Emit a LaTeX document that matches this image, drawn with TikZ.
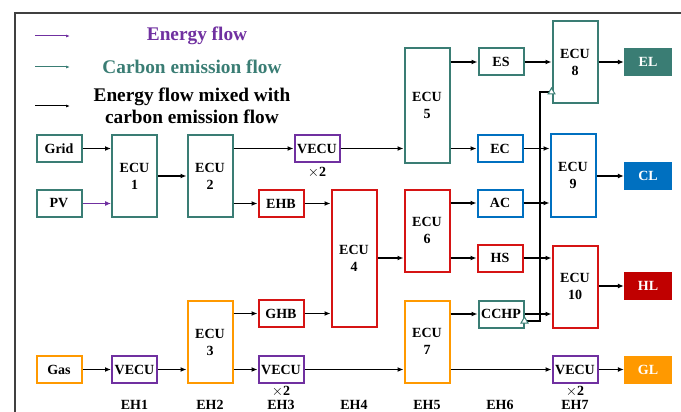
\documentclass[tikz,border=0pt]{standalone}
\usepackage{fontspec}
\setmainfont{Liberation Serif}
\usepackage{tikz}
\usetikzlibrary{arrows.meta, positioning, shapes.geometric}
\definecolor{ecteal}{RGB}{58, 125, 116}
\definecolor{ecpurple}{RGB}{112, 48, 160}
\definecolor{ecblue}{RGB}{0, 112, 192}
\definecolor{ecred}{RGB}{214, 20, 20}
\definecolor{ecdark}{RGB}{192, 0, 0}
\definecolor{ecorange}{RGB}{255, 153, 0}
\definecolor{framegray}{RGB}{64, 64, 64}

\begin{document}
\begin{tikzpicture}[
    x=1pt, y=-1pt,
    unit/.style={rectangle, draw=#1, fill=white, line width=2pt, inner sep=0pt, align=center, font=\fontsize{14}{17}\selectfont\bfseries},
    small/.style={minimum width=45pt, minimum height=27pt},
    ecu/.style={minimum width=45pt, minimum height=82pt},
    load/.style={rectangle, fill=#1, minimum width=48pt, minimum height=28pt, inner sep=0pt, text=white, font=\fontsize{14}{17}\selectfont\bfseries},
    flow/.style={-{Latex[length=6pt,width=5pt]}, line width=1.6pt},
    legflow/.style={-{Latex[length=4pt,width=3pt]}, line width=1pt},
    legtext/.style={font=\fontsize{19.3}{22}\selectfont\bfseries, align=center},
    times/.style={font=\fontsize{14}{17}\selectfont\bfseries, inner sep=0pt},
    ehlbl/.style={font=\fontsize{14}{17}\selectfont\bfseries, inner sep=0pt},
    ctri/.style={regular polygon, regular polygon sides=3, draw=ecteal, fill=white, line width=1pt, minimum size=8pt, inner sep=0pt}
  ]
  \useasboundingbox (0,0) rectangle (681,412);

  % Frame
  \draw[framegray, line width=2pt] (15,412) -- (15,13) -- (681,13);

  % Legend
  \coordinate (lgE0) at (35,36);  \coordinate (lgE1) at (70,36);
  \coordinate (lgC0) at (35,67);  \coordinate (lgC1) at (70,67);
  \coordinate (lgM0) at (35,106); \coordinate (lgM1) at (70,106);
  \draw[legflow, ecpurple] (lgE0) -- (lgE1);
  \draw[legflow, ecteal] (lgC0) -- (lgC1);
  \draw[legflow, black] (lgM0) -- (lgM1);
  \node[legtext, text=ecpurple] (legE) at (197,36) {Energy flow};
  \node[legtext, text=ecteal] (legC) at (192,67) {Carbon emission flow};
  \node[legtext] (legM) at (192,106) {Energy flow mixed with\\carbon emission flow};

  % Sources
  \node[unit=ecteal, small] (grid) at (59,148.5) {Grid};
  \node[unit=ecteal, small] (pv) at (59,203.5) {PV};
  \node[unit=ecorange, small] (gas) at (59,369.5) {Gas};

  % EH1 - EH3
  \node[unit=ecteal, ecu] (ecu1) at (134.5,176) {ECU\\1};
  \node[unit=ecpurple, small] (vecu1) at (134.5,369.5) {VECU};
  \node[unit=ecteal, ecu] (ecu2) at (210,176) {ECU\\2};
  \node[unit=ecorange, ecu] (ecu3) at (210,342) {ECU\\3};
  \node[unit=ecpurple, small] (vecu2) at (317,148.5) {VECU};
  \node[unit=ecred, small] (ehb) at (281,203.5) {EHB};
  \node[unit=ecred, small] (ghb) at (281,313.5) {GHB};
  \node[unit=ecpurple, small] (vecu3) at (281,369.5) {VECU};
  \node[times, below=4pt of vecu2] (x2a) {$\times$2};
  \node[times, below=2pt of vecu3] (x2b) {$\times$2};

  % EH4 - EH5
  \node[unit=ecred, ecu, minimum height=137pt] (ecu4) at (354,258) {ECU\\4};
  \node[unit=ecteal, ecu, minimum height=114pt] (ecu5) at (427,105.5) {ECU\\5};
  \node[unit=ecred, ecu] (ecu6) at (427,230.5) {ECU\\6};
  \node[unit=ecorange, ecu] (ecu7) at (427,341.5) {ECU\\7};

  % EH6
  \node[unit=ecteal, small] (es) at (501,62) {ES};
  \node[unit=ecblue, small] (ec) at (500,148.5) {EC};
  \node[unit=ecblue, small] (ac) at (500,203) {AC};
  \node[unit=ecred, small] (hs) at (500,258) {HS};
  \node[unit=ecteal, small] (cchp) at (501,314) {CCHP};

  % EH7
  \node[unit=ecteal, ecu] (ecu8) at (575,62) {ECU\\8};
  \node[unit=ecblue, ecu] (ecu9) at (573,175.5) {ECU\\9};
  \node[unit=ecred, ecu] (ecu10) at (575,286.5) {ECU\\10};
  \node[unit=ecpurple, small] (vecu4) at (575,369.5) {VECU};
  \node[times, below=2pt of vecu4] (x2c) {$\times$2};

  % Loads
  \node[load=ecteal] (el) at (648,62) {EL};
  \node[load=ecblue] (cl) at (648,176) {CL};
  \node[load=ecdark] (hl) at (648,286) {HL};
  \node[load=ecorange] (gl) at (648,369.5) {GL};

  % Hub labels
  \foreach \n/\x in {1/134.5, 2/210, 3/281, 4/354, 5/427, 6/500, 7/575} {
    \node[ehlbl] (eh\n) at (\x,405) {EH\n};
  }

  % Flows
  \draw[flow] (grid.east) -- (grid.east -| ecu1.west);
  \draw[flow, ecpurple, line width=1.1pt] (pv.east) -- (pv.east -| ecu1.west);
  \draw[flow] (gas.east) -- (vecu1.west);
  \draw[flow] (ecu1.east) -- (ecu2.west);
  \draw[flow] (vecu1.east) -- (vecu1.east -| ecu3.west);
  \draw[flow] (ecu2.east |- vecu2.west) -- (vecu2.west);
  \draw[flow] (ecu2.east |- ehb.west) -- (ehb.west);
  \draw[flow] (ecu3.east |- ghb.west) -- (ghb.west);
  \draw[flow] (ecu3.east |- vecu3.west) -- (vecu3.west);
  \draw[flow] (vecu2.east) -- (vecu2.east -| ecu5.west);
  \draw[flow] (ehb.east) -- (ehb.east -| ecu4.west);
  \draw[flow] (ghb.east) -- (ghb.east -| ecu4.west);
  \draw[flow] (vecu3.east) -- (vecu3.east -| ecu7.west);
  \draw[flow] (ecu4.east) -- (ecu4.east -| ecu6.west);
  \draw[flow] (ecu5.east |- es.west) -- (es.west);
  \draw[flow] (ecu5.east |- ec.west) -- (ec.west);
  \draw[flow] (ecu6.east |- ac.west) -- (ac.west);
  \draw[flow] (ecu6.east |- hs.west) -- (hs.west);
  \draw[flow] (ecu7.east |- cchp.west) -- (cchp.west);
  \draw[flow] (ecu7.east |- vecu4.west) -- (vecu4.west);
  \draw[flow] (es.east) -- (es.east -| ecu8.west);
  \draw[flow] (ec.east) -- (ec.east -| ecu9.west);
  \draw[flow] (ac.east) -- (ac.east -| ecu9.west);
  \draw[flow] (hs.east) -- (hs.east -| ecu10.west);
  \draw[flow] (cchp.east) -- (cchp.east -| ecu10.west);
  \draw[flow] (ecu8.east |- el.west) -- (el.west);
  \draw[flow] (ecu9.east |- cl.west) -- (cl.west);
  \draw[flow] (ecu10.east |- hl.west) -- (hl.west);
  \draw[flow] (vecu4.east) -- (gl.west);

  % Bus from CCHP up to ECU 8
  \coordinate (busS) at (540,321);
  \coordinate (busN) at (540,92);
  \draw[line width=1.6pt] (cchp.east |- busS) -- (busS) -- (busN) -- (busN -| ecu8.west);
  \node[ctri] (triS) at (cchp.east |- busS) {};
  \node[ctri] (triN) at (busN -| ecu8.west) {};

\end{tikzpicture}
\end{document}
